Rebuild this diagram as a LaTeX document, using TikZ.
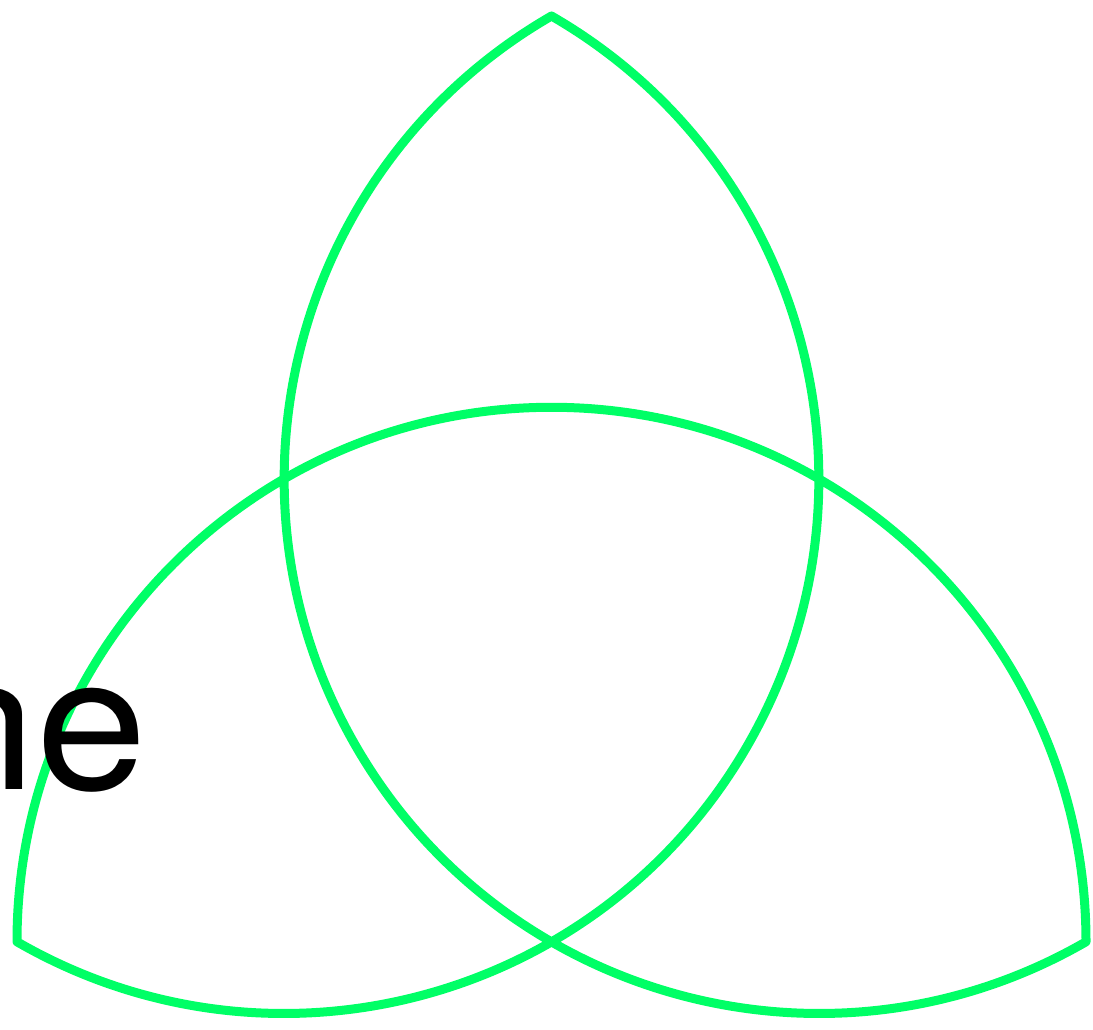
\documentclass[tikz,border=0pt]{standalone}
\usepackage{fontspec}
\setmainfont{TeX Gyre Heros}
\definecolor{knotgreen}{RGB}{0,255,102}
\tikzset{knotline/.style={draw=knotgreen,line width=9pt,line join=round,line cap=round},
  wordstyle/.style={anchor=base west,inner sep=0pt,xscale=1.06,font=\fontsize{188}{200}\selectfont}}
\begin{document}
\begin{tikzpicture}[x=1pt,y=1pt]
\useasboundingbox (0,0) rectangle (1093,1029);
\clip (0,0) rectangle (1093,1029);
\coordinate (T) at (551.5,1013);
\draw[knotline] (T) arc[start angle=120,end angle=300,radius=534.5]
  arc[start angle=0,end angle=180,radius=534.5]
  arc[start angle=240,end angle=420,radius=534.5] -- cycle;
\node[wordstyle] (word) at (-74.5,239) {ne};
\end{tikzpicture}
\end{document}
